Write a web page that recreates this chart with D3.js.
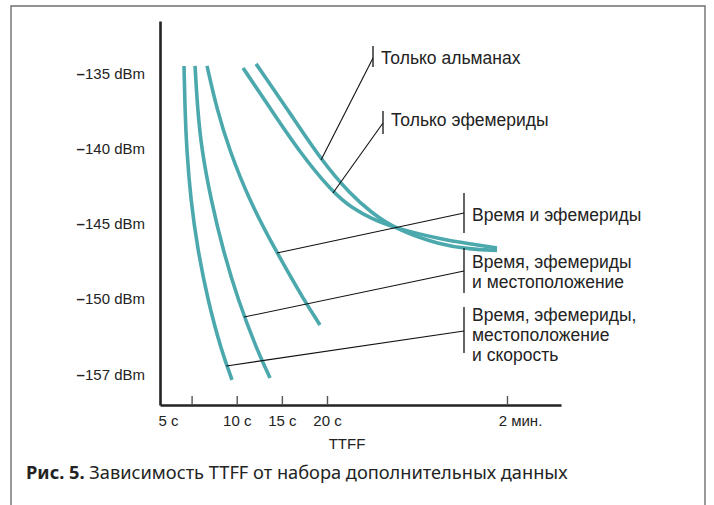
<!DOCTYPE html>
<html><head><meta charset="utf-8">
<script src="https://cdn.jsdelivr.net/npm/d3@7"></script>
<style>body{margin:0;background:#fff} svg{display:block}</style>
</head><body>
<svg id="c" width="714" height="505"></svg>
<script>
// ---------- data ----------
const yTicks = [-135, -140, -145, -150, -157];
const yTickLabels = ["–135 dBm", "–140 dBm", "–145 dBm", "–150 dBm", "–157 dBm"];
const xTicks = [5, 10, 15, 20, 120];
const xTickLabels = ["5 с", "10 с", "15 с", "20 с", "2 мин."];
const xTitle = "TTFF";

// curve: время, эфемериды, местоположение и скорость
const velTime  = [4.16, 4.27, 4.45, 4.90, 5.68, 6.79, 8.28, 9.48];
const velPower = [-134.47, -137.4, -140, -143.4, -146.73, -150.09, -154.7, -157.46];
// curve: время, эфемериды и местоположение
const posTime  = [5.38, 5.67, 6.10, 7.15, 8.48, 10.14, 12.25, 13.69];
const posPower = [-134.47, -137.4, -140, -143.4, -146.73, -150.09, -154.7, -157.28];
// curve: время и эфемериды
const timeEphTime  = [6.71, 7.82, 9.15, 11.36, 14.46, 17.45, 19.22];
const timeEphPower = [-134.47, -137.4, -140, -143.4, -146.93, -150.09, -152.39];
// curve: только эфемериды
const ephTime  = [10.70, 13.69, 16.79, 23.33, 33.89, 45.0, 57.78, 82.78, 99.45, 114.45];
const ephPower = [-134.6, -137.27, -140.07, -142.93, -143.93, -144.67, -145.27, -146.0, -146.33, -146.6];
// curve: только альманах
const almTime  = [12.14, 15.9, 19.34, 32.78, 45.0, 57.78, 82.78, 99.45, 114.45];
const almPower = [-134.33, -137.6, -140.73, -143.0, -144.27, -145.33, -146.4, -146.67, -146.77];

const annLabels = [
  ["Только альманах"],
  ["Только эфемериды"],
  ["Время и эфемериды"],
  ["Время, эфемериды", "и местоположение"],
  ["Время, эфемериды,", "местоположение", "и скорость"]
];
// anchor point on each curve (time, power)
const annAnchorTime  = [19.34, 23.33, 14.46, 10.81, 8.85];
const annAnchorPower = [-140.73, -142.93, -146.93, -151.66, -156.17];

const captionBold = "Рис. 5.";
const captionText = " Зависимость TTFF от набора дополнительных данных";

// ---------- layout ----------
const svg = d3.select("#c");
const teal = "#4ba8ad";
const ink = "#232323";
const F = "'Liberation Sans', Arial, Helvetica, sans-serif";

const x = d3.scaleLinear().domain([1.5, 20, 150]).range([160, 327, 561]);
const y = d3.scaleLinear().domain([-131.5, -135, -150, -157, -159.8]).range([21, 74, 299, 375, 405]);

// frame
svg.append("path").attr("d", "M11,520V6H705V520").attr("fill", "none")
  .attr("stroke", "#6f6f6f").attr("stroke-width", 1.4);

// y axis (line + labels only)
const ya = svg.append("g").attr("transform", "translate(160,0)")
  .call(d3.axisLeft(y).tickValues(yTicks).tickSize(0).tickPadding(15)
        .tickFormat((d, i) => yTickLabels[i]));
ya.select(".domain").attr("stroke", ink).attr("stroke-width", 2.6);
ya.selectAll("text").attr("font-family", F).attr("font-size", 15).attr("fill", ink)
  .each(function () {
    const s = this.textContent, t = d3.select(this).text("");
    t.append("tspan").attr("font-weight", "bold").text(s.slice(0, 1));
    t.append("tspan").text(s.slice(1));
  });

// x axis
const xa = svg.append("g").attr("transform", "translate(0,405)")
  .call(d3.axisBottom(x).tickValues(xTicks).tickSizeInner(-9).tickSizeOuter(0).tickPadding(10)
        .tickFormat((d, i) => xTickLabels[i]));
xa.select(".domain").attr("stroke", ink).attr("stroke-width", 2.6);
xa.selectAll(".tick line").attr("stroke", "#555").attr("stroke-width", 1.4);
xa.selectAll("text").attr("font-family", F).attr("font-size", 15).attr("fill", ink);
// first label sits at the axis origin, last one slightly offset
xa.selectAll(".tick").filter(d => d === xTicks[0]).select("text")
  .attr("text-anchor", "start").attr("x", x.range()[0] - x(xTicks[0]) - 2);
xa.selectAll(".tick").filter(d => d === xTicks[4]).select("text").attr("x", 13);

svg.append("text").attr("x", 347).attr("y", 449).attr("text-anchor", "middle")
  .attr("font-family", F).attr("font-size", 15).attr("fill", ink).text(xTitle);

// curves
const series = [
  [velTime, velPower], [posTime, posPower], [timeEphTime, timeEphPower],
  [ephTime, ephPower], [almTime, almPower]
];
const line = d3.line().x(d => x(d[0])).y(d => y(d[1])).curve(d3.curveBasis);
series.forEach(([t, p]) => {
  svg.append("path").datum(t.map((v, i) => [v, p[i]]))
    .attr("d", line).attr("fill", "none").attr("stroke", teal)
    .attr("stroke-width", 3.6);
});

// annotations
const brX = [373, 383, 464, 464, 464];
const brTop = [46, 111, 193, 248, 307];
const brBot = [67, 134, 233, 293, 353];
const brJoin = [58, 123, 213, 271, 331];
const txtY = [58, 120, 215, 262, 315];
annLabels.forEach((lines, i) => {
  svg.append("line").attr("x1", x(annAnchorTime[i])).attr("y1", y(annAnchorPower[i]))
    .attr("x2", brX[i]).attr("y2", brJoin[i]).attr("stroke", "#111").attr("stroke-width", 1.1);
  svg.append("line").attr("x1", brX[i]).attr("x2", brX[i]).attr("y1", brTop[i]).attr("y2", brBot[i])
    .attr("stroke", "#111").attr("stroke-width", 1.3);
  const t = svg.append("text").attr("font-family", F).attr("font-size", 17.5).attr("fill", ink);
  lines.forEach((s, k) => {
    t.append("tspan").attr("x", brX[i] + 8).attr("y", txtY[i] + k * 19.7)
      .attr("dy", "0.35em").text(s);
  });
});

// caption, fitted to the reference width
const cap = svg.append("text").attr("x", 26).attr("y", 479)
  .attr("font-family", "'Noto Sans', 'Open Sans', sans-serif").attr("font-size", 16).attr("fill", ink);
cap.append("tspan").attr("font-weight", "bold").text(captionBold);
cap.append("tspan").text(captionText);
const w = cap.node().getComputedTextLength();
cap.attr("font-size", 16 * 542 / w);
</script>
</body></html>
